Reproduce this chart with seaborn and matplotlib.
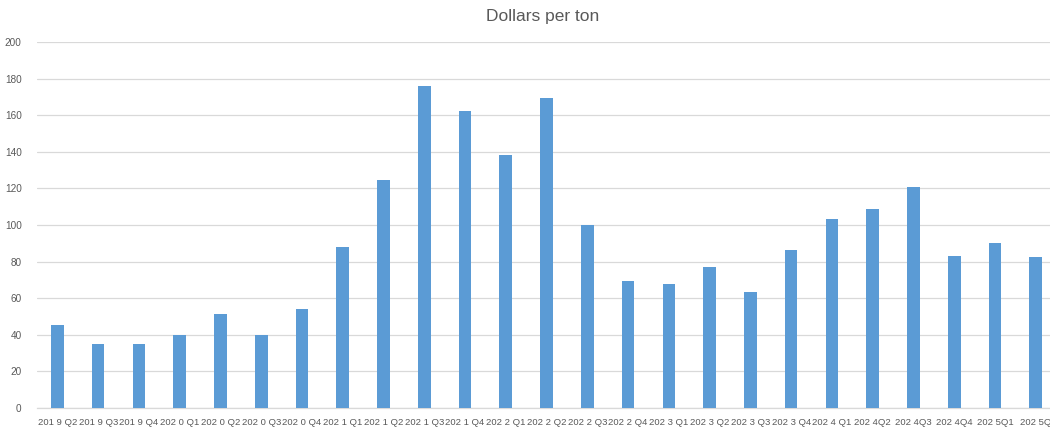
import matplotlib
matplotlib.use("Agg")
import matplotlib.pyplot as plt
import pandas as pd
import seaborn as sns

quarters = ["201 9 Q2", "201 9 Q3", "201 9 Q4", "202 0 Q1", "202 0 Q2", "202 0 Q3",
            "202 0 Q4", "202 1 Q1", "202 1 Q2", "202 1 Q3", "202 1 Q4", "202 2 Q1",
            "202 2 Q2", "202 2 Q3", "202 2 Q4", "202 3 Q1", "202 3 Q2", "202 3 Q3",
            "202 3 Q4", "202 4 Q1", "202 4Q2", "202 4Q3", "202 4Q4", "202 5Q1", "202 5Q"]
dollars = [45.6, 34.7, 34.7, 40.0, 51.2, 40.0, 54.0, 88.2, 124.7, 176.2, 162.3, 138.4,
           169.6, 100.0, 69.3, 67.8, 76.9, 63.6, 86.4, 103.3, 108.9, 120.9, 83.1, 89.9, 82.5]
y_ticks = list(range(0, 201, 20))

BAR = "#5B9BD5"
GRID = "#D9D9D9"
TXT = "#595959"

sns.set_style("white")
plt.rcParams["font.family"] = ["Liberation Sans", "DejaVu Sans"]

df = pd.DataFrame({"quarter": quarters, "dollars": dollars})

fig = plt.figure(figsize=(10.5, 4.3), dpi=100)
ax = fig.add_axes([37 / 1050, 22 / 430, 1013 / 1050, 366 / 430])
sns.barplot(data=df, x="quarter", y="dollars", order=quarters, color=BAR,
            saturation=1, width=0.31, ax=ax, zorder=3, edgecolor="none")

ax.set_xlim(-0.5, 24.35)
ax.set_ylim(0, 200)
ax.set_yticks(y_ticks)
ax.yaxis.grid(True, color=GRID, linewidth=0.9, zorder=0)
ax.set_axisbelow(True)
for s in ["top", "right", "left"]:
    ax.spines[s].set_visible(False)
ax.spines["bottom"].set_color(GRID)
ax.spines["bottom"].set_linewidth(0.9)
ax.tick_params(axis="both", length=0, labelcolor=TXT)
ax.tick_params(axis="x", labelsize=6.8, pad=7)
ax.tick_params(axis="y", labelsize=7.2, pad=11)
ax.set_xlabel("")
ax.set_ylabel("")
fig.text(543 / 1050, 1 - 16 / 430, "Dollars per ton", ha="center", va="center",
         fontsize=12.5, color=TXT)

fig.savefig("out.png", dpi=100)
